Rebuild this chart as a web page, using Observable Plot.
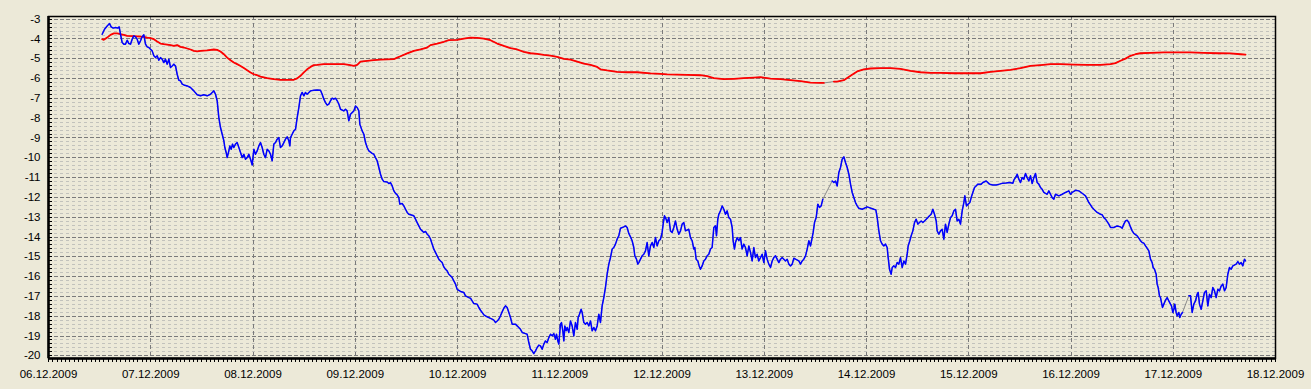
<!DOCTYPE html>
<html><head><meta charset="utf-8">
<script src="https://cdn.jsdelivr.net/npm/d3@7"></script>
<script src="https://cdn.jsdelivr.net/npm/@observablehq/plot@0.6"></script>
<style>html,body{margin:0;padding:0;background:#ECE9D8;} #chart svg{display:block}</style>
</head><body><div id="chart"></div>
<script>
// Tick labels
const dayLabels = ["06.12.2009","07.12.2009","08.12.2009","09.12.2009","10.12.2009","11.12.2009","12.12.2009","13.12.2009","14.12.2009","15.12.2009","16.12.2009","17.12.2009","18.12.2009"];
const yTickLabels = [-3,-4,-5,-6,-7,-8,-9,-10,-11,-12,-13,-14,-15,-16,-17,-18,-19,-20];

// Blue series: hours since 06.12.2009 00:00 and values (null = recording gap)
const blueHours = [12.6,13.15,13.77,14.32,14.71,15.18,15.73,16.28,16.59,16.9,17.29,17.68,18.07,18.47,18.86,19.25,19.64,20.03,20.42,20.81,21.2,21.6,21.99,22.38,22.77,23.16,23.55,23.94,24.33,24.73,25.12,25.51,25.9,26.29,26.68,27.07,27.46,27.86,28.25,28.64,29.03,29.42,29.81,30.2,30.59,30.98,31.38,31.77,32.55,33.33,34.11,34.9,35.68,36.46,37.24,38.03,38.42,38.81,39.2,39.59,39.98,40.37,40.77,41.16,41.39,41.7,41.94,42.33,42.56,42.88,43.19,43.5,43.89,44.28,44.68,45.07,45.46,45.85,46.24,46.63,47.02,47.42,47.81,48.2,48.59,48.98,49.37,49.76,50.15,50.54,50.93,51.32,51.72,52.11,52.5,52.89,53.28,53.67,54.06,54.45,54.85,55.24,55.63,56.02,56.41,56.65,56.8,57.19,57.58,57.98,58.37,58.76,59.15,59.54,59.93,60.32,60.71,61.11,61.5,62.28,63.06,63.84,64.23,64.63,65.02,65.41,65.8,66.19,66.58,66.97,67.36,67.76,68.15,68.54,69.32,69.71,70.1,70.49,70.89,71.67,72.06,72.45,72.84,73.08,73.62,74.02,74.41,74.8,75.19,75.97,76.36,76.75,77.14,77.54,77.93,78.32,78.71,79.49,79.88,80.27,80.67,81.06,81.45,81.84,82.23,82.46,83.01,83.4,83.8,84.19,84.58,85.36,85.75,86.14,86.53,86.92,87.32,87.71,88.1,88.49,88.88,89.27,
89.66,90.05,90.44,90.83,91.22,91.62,92.01,92.4,92.79,93.18,93.57,93.96,94.35,94.75,95.14,95.53,95.92,96.7,97.48,97.87,98.66,99.05,99.44,99.83,100.61,101.0,101.4,101.79,102.18,102.96,103.35,104.13,104.53,104.92,105.31,105.7,106.09,106.48,106.87,107.26,107.66,108.05,108.44,108.83,109.61,110.0,110.39,110.78,111.18,111.96,112.35,112.74,113.13,113.52,113.91,114.31,114.7,115.09,115.48,115.87,116.26,116.65,117.04,117.44,117.83,118.22,118.61,119.0,119.23,119.55,119.78,120.17,120.41,120.72,120.96,121.19,121.5,121.74,122.13,122.52,122.91,123.3,123.69,124.09,124.32,124.63,125.02,125.26,125.65,126.04,126.43,126.82,127.22,127.61,128.0,128.39,128.78,129.17,129.56,
129.95,130.34,130.73,131.12,131.52,131.91,132.3,132.69,133.08,133.47,133.86,134.25,135.04,135.43,135.82,136.21,136.6,136.99,137.38,137.62,138.01,138.32,138.56,138.95,139.34,139.73,140.12,140.51,140.9,141.3,141.69,142.08,142.47,142.86,143.25,143.64,144.03,144.27,144.58,144.97,145.21,145.6,145.99,146.38,146.77,147.16,147.56,147.95,148.34,148.73,149.12,149.51,150.29,150.68,151.08,151.47,151.7,152.01,152.41,152.72,153.03,153.42,153.81,154.2,154.6,154.99,155.38,155.77,156.16,156.55,156.79,157.1,157.34,157.73,158.12,158.51,158.9,159.29,159.68,160.07,160.47,160.7,161.01,161.25,161.64,162.03,162.42,162.81,163.2,163.59,163.99,164.38,164.77,165.16,165.55,165.94,166.33,166.72,167.12,167.51,167.9,168.29,168.68,169.07,
169.47,169.86,170.25,170.64,171.03,171.43,171.82,172.21,172.6,172.99,173.38,173.77,174.16,174.56,174.95,175.34,176.12,176.51,176.9,177.29,177.69,178.08,178.47,178.86,179.25,179.48,179.8,180.19,180.58,180.97,181.36,181.75,182.8,183.94,184.34,184.73,185.12,185.51,185.9,186.29,186.68,187.07,187.47,187.86,188.25,188.64,189.03,189.42,189.81,190.2,190.99,192.16,193.72,194.19,194.51,194.9,195.29,195.68,196.07,196.46,196.85,197.09,197.4,197.79,198.03,198.42,198.81,199.2,199.59,199.98,200.37,200.77,201.16,201.55,201.78,202.17,202.49,202.88,203.27,203.66,204.05,204.44,204.83,205.23,205.62,206.01,206.4,206.79,207.18,207.57,207.96,208.36,208.59,208.98,
209.37,209.76,210.15,210.54,210.93,211.33,211.72,212.11,212.5,212.89,213.28,213.67,214.06,214.46,214.85,215.08,215.47,215.86,216.26,216.57,216.96,217.35,217.74,218.13,218.92,219.31,220.09,220.87,221.65,222.44,223.22,224.0,224.78,225.57,226.35,226.58,226.97,227.37,227.76,228.15,228.54,228.93,229.32,229.71,230.1,230.5,230.89,231.28,231.67,232.06,232.45,232.84,233.23,233.63,234.02,234.41,234.8,235.19,235.58,235.97,236.36,237.15,237.93,238.71,239.49,239.88,240.28,241.06,241.84,242.62,243.4,243.8,244.19,244.58,244.97,245.36,246.14,246.93,247.32,247.71,248.1,248.49,248.88,
249.27,250.05,250.83,251.62,252.01,252.4,252.79,253.18,253.57,253.96,254.36,254.75,255.53,255.92,256.31,256.7,257.09,257.49,257.88,258.27,258.66,259.05,259.28,259.6,259.99,260.22,260.46,260.77,261.01,261.24,261.48,261.79,262.18,262.57,262.96,263.35,263.59,263.9,264.14,264.37,264.68,264.92,265.31,265.54,265.86,266.17,266.9,267.66,268.05,268.44,268.83,269.22,269.61,269.85,270.16,270.55,270.94,271.33,271.73,272.12,272.51,272.9,273.29,273.68,274.07,274.46,274.86,275.25,275.64,276.03,276.42,276.81,277.2,277.59,277.98,278.77,279.16,279.55,279.94,280.33,280.72,280.96];
const blueValues = [-3.76,-3.51,-3.34,-3.22,-3.39,-3.45,-3.42,-3.45,-3.39,-3.76,-4.18,-4.26,-4.26,-4.06,-4.23,-4.26,-4.01,-3.84,-3.89,-4.01,-4.26,-4.09,-3.89,-3.79,-4.26,-4.40,-4.43,-4.52,-4.60,-4.85,-4.94,-4.85,-5.07,-4.94,-5.02,-5.19,-5.02,-5.27,-5.02,-5.44,-5.36,-5.27,-5.36,-5.78,-6.08,-6.11,-6.28,-6.32,-6.37,-6.45,-6.62,-6.82,-6.87,-6.82,-6.87,-6.79,-6.70,-6.62,-6.79,-7.12,-7.97,-8.47,-8.81,-9.14,-9.48,-9.73,-9.99,-9.65,-9.40,-9.57,-9.31,-9.48,-9.31,-9.23,-9.48,-9.73,-9.99,-9.82,-10.07,-9.99,-9.82,-10.07,-10.36,-9.57,-9.82,-9.65,-9.40,-9.23,-9.48,-9.82,-9.99,-9.57,-9.65,-9.82,-10.15,-9.31,-9.23,-9.06,-8.98,-9.48,-9.40,-9.23,-9.06,-8.94,-9.14,-9.40,-8.98,-8.81,-8.64,-8.56,-7.97,-7.46,-6.87,-6.70,-6.87,-6.70,-6.79,-6.70,-6.62,-6.59,-6.57,-6.59,-6.79,-7.04,-7.21,-7.34,-7.29,-7.12,-6.99,-7.04,-6.99,-7.12,-7.29,-7.55,-7.63,-7.55,-7.63,-8.13,-7.80,-7.63,-7.38,-7.46,-7.63,-8.30,-8.64,-8.81,-9.23,-9.48,-9.65,-9.78,-9.82,-9.99,-10.15,-10.49,-10.83,-11.08,-11.20,-11.22,-11.30,-11.25,-11.42,-11.67,-11.80,-11.87,-12.01,-12.34,-12.31,-12.43,-12.60,-12.76,-12.85,-12.90,-12.93,-13.10,-13.27,-13.44,-13.61,-13.69,-13.77,-13.72,-13.86,-13.94,
-14.10,-14.36,-14.61,-14.78,-14.95,-15.12,-15.21,-15.29,-15.51,-15.63,-15.71,-15.88,-15.96,-16.05,-16.22,-16.38,-16.64,-16.75,-16.80,-16.97,-17.06,-17.09,-17.23,-17.36,-17.39,-17.56,-17.70,-17.81,-17.93,-18.03,-18.07,-18.15,-18.20,-18.32,-18.24,-18.15,-17.98,-17.78,-17.60,-17.48,-17.56,-17.81,-18.07,-18.40,-18.40,-18.49,-18.57,-18.66,-18.82,-18.88,-18.91,-19.33,-19.67,-19.75,-19.89,-19.75,-19.58,-19.46,-19.50,-19.67,-19.41,-19.25,-19.33,-19.08,-18.91,-18.99,-18.88,-19.16,-18.91,-19.25,-19.41,-18.40,-18.32,-18.74,-19.25,-18.49,-18.74,-18.57,-18.82,-18.24,-18.49,-18.99,-18.32,-18.66,-18.07,-17.90,-17.65,-17.81,-18.32,-18.40,-18.32,-18.49,-18.24,-18.74,-18.57,-18.74,-18.49,-17.90,-18.32,
-17.48,-17.06,-16.55,-15.88,-15.37,-15.04,-14.61,-14.53,-14.36,-14.11,-13.94,-13.56,-13.49,-13.44,-13.52,-13.82,-13.99,-14.19,-14.53,-14.95,-15.12,-15.37,-15.29,-15.12,-14.95,-14.87,-14.70,-14.28,-14.95,-14.45,-14.28,-14.53,-14.03,-14.45,-14.19,-14.11,-13.77,-13.35,-12.93,-13.10,-13.27,-13.02,-13.69,-13.77,-13.52,-13.19,-13.61,-13.86,-13.69,-13.35,-13.27,-13.69,-13.61,-14.03,-14.19,-14.61,-14.53,-15.12,-15.21,-15.46,-15.63,-15.46,-15.21,-15.12,-14.95,-14.87,-14.61,-14.53,-13.52,-13.44,-13.94,-13.10,-12.85,-12.68,-12.43,-12.60,-12.85,-12.68,-13.02,-13.10,-13.52,-14.19,-14.61,-14.28,-14.03,-14.19,-14.03,-14.61,-14.36,-14.53,-14.95,-14.45,-14.78,-15.21,-14.53,-15.04,-14.87,-15.21,-15.04,-14.87,-15.29,-14.70,-15.12,-15.37,
-15.54,-15.21,-15.04,-14.95,-15.12,-15.29,-15.12,-15.04,-15.12,-15.21,-15.12,-15.37,-15.46,-15.37,-15.07,-15.12,-15.21,-15.37,-15.21,-15.12,-14.95,-14.61,-14.19,-14.45,-14.03,-13.77,-13.27,-13.02,-12.34,-12.51,-12.43,-12.09,null,-11.17,-11.25,-11.17,-11.42,-10.74,-10.49,-10.07,-9.95,-10.24,-10.49,-10.83,-11.33,-11.75,-12.01,-12.26,-12.43,-12.55,-12.60,-12.48,-12.60,-12.63,-13.02,-13.69,-14.19,-14.36,-14.45,-14.36,-14.53,-15.04,-15.63,-15.88,-15.54,-15.46,-15.54,-15.29,-15.37,-15.04,-15.54,-15.21,-15.37,-14.87,-14.45,-14.19,-13.94,-13.69,-13.27,-13.10,-13.35,-13.27,-13.19,-13.27,-13.19,-13.10,-13.02,-12.93,-12.85,-12.60,-12.85,-13.19,-13.69,-13.86,
-13.69,-13.61,-14.11,-13.35,-13.77,-13.35,-13.02,-12.93,-12.68,-12.60,-13.19,-13.10,-13.35,-12.68,-12.26,-11.92,-12.43,-12.34,-12.26,-12.01,-11.75,-11.50,-11.42,-11.33,-11.33,-11.25,-11.17,-11.33,-11.37,-11.37,-11.33,-11.28,-11.27,-11.25,-11.28,-11.13,-11.00,-10.83,-11.08,-11.25,-11.00,-11.08,-10.79,-11.00,-11.17,-10.91,-11.30,-11.00,-10.79,-11.25,-11.33,-11.50,-11.59,-11.75,-11.80,-11.84,-11.67,-11.84,-12.01,-12.09,-11.84,-11.92,-11.84,-11.75,-11.67,-11.84,-11.75,-11.64,-11.67,-11.79,-11.92,-12.09,-12.26,-12.38,-12.51,-12.60,-12.76,-12.85,-12.88,-13.02,-13.10,-13.22,-13.35,
-13.52,-13.52,-13.44,-13.49,-13.56,-13.35,-13.19,-13.15,-13.27,-13.49,-13.69,-13.82,-13.94,-14.06,-14.19,-14.28,-14.31,-14.45,-14.57,-14.70,-15.12,-15.29,-15.54,-15.63,-15.88,-16.38,-16.55,-16.97,-17.06,-17.31,-17.56,-17.39,-17.19,-17.06,-17.23,-17.39,-17.48,-17.81,-17.65,-17.39,-17.81,-17.98,-17.81,-18.07,-17.90,-17.81,null,-16.97,-16.97,-17.81,-17.39,-17.23,-16.89,-16.80,-17.39,-17.65,-17.23,-16.80,-16.72,-17.48,-16.89,-17.06,-16.55,-16.72,-17.06,-16.64,-16.72,-16.47,-16.38,-16.72,-16.55,-15.88,-15.54,-15.63,-15.46,-15.37,-15.24,-15.37,-15.29,-15.46,-15.12,-15.21];

// Red series
const redHours = [12.6,12.99,13.77,14.55,15.34,16.12,16.9,17.68,18.47,20.03,21.6,22.38,23.16,23.94,24.73,25.51,26.29,27.07,28.64,29.42,30.2,30.98,31.77,32.55,33.33,34.11,34.9,35.68,37.24,38.81,39.59,40.37,41.16,41.94,42.72,43.5,44.28,45.07,45.85,46.63,47.42,48.2,48.98,49.76,51.32,52.89,54.45,57.58,58.37,59.15,59.93,60.71,61.5,62.28,63.06,64.63,69.32,70.49,71.67,72.45,73.23,74.8,76.36,77.93,81.06,81.84,82.62,84.19,85.75,87.32,88.88,89.66,91.22,92.79,93.96,95.92,97.48,99.05,100.61,102.18,103.74,105.31,106.87,108.44,110.0,111.57,113.13,114.7,116.26,117.83,119.39,120.96,122.52,124.09,125.65,127.22,128.78,129.56,131.12,133.47,135.82,138.17,141.3,143.64,145.21,149.9,153.03,154.6,156.16,158.51,160.86,163.2,165.55,167.12,169.47,171.82,174.16,176.51,178.86,181.21,181.99,183.2,184.34,185.12,186.68,188.25,189.81,191.38,192.94,195.29,197.64,199.98,202.33,204.68,207.02,209.37,212.5,215.63,218.76,221.11,223.45,225.8,228.15,230.5,232.84,235.19,237.54,240.67,243.8,246.93,249.27,250.44,251.62,252.79,253.96,255.14,256.31,258.66,261.79,268.05,271.18,274.31,277.44,279.79,280.96];
const redValues = [-4.01,-4.04,-3.93,-3.79,-3.72,-3.72,-3.76,-3.79,-3.84,-3.86,-3.88,-3.89,-3.93,-3.96,-4.01,-4.13,-4.23,-4.26,-4.31,-4.35,-4.31,-4.40,-4.43,-4.48,-4.53,-4.60,-4.63,-4.60,-4.57,-4.53,-4.55,-4.63,-4.77,-4.94,-5.07,-5.19,-5.27,-5.36,-5.47,-5.58,-5.69,-5.78,-5.83,-5.90,-5.98,-6.03,-6.06,-6.06,-5.99,-5.86,-5.69,-5.53,-5.41,-5.32,-5.31,-5.27,-5.27,-5.31,-5.36,-5.31,-5.14,-5.10,-5.07,-5.04,-5.02,-4.94,-4.87,-4.73,-4.60,-4.52,-4.43,-4.31,-4.23,-4.14,-4.06,-4.04,-3.98,-3.93,-3.94,-3.98,-4.06,-4.23,-4.35,-4.46,-4.53,-4.65,-4.72,-4.75,-4.80,-4.84,-4.90,-5.00,-5.04,-5.14,-5.24,-5.31,-5.41,-5.53,-5.59,-5.66,-5.68,-5.68,-5.74,-5.76,-5.79,-5.81,-5.83,-5.88,-5.98,-6.03,-6.01,-5.98,-5.95,-5.93,-6.00,-6.03,-6.08,-6.13,-6.20,-6.22,-6.22,null,-6.15,-6.15,-6.08,-5.86,-5.64,-5.53,-5.49,-5.47,-5.47,-5.51,-5.61,-5.68,-5.71,-5.71,-5.73,-5.73,-5.73,-5.66,-5.61,-5.56,-5.47,-5.36,-5.32,-5.27,-5.27,-5.29,-5.31,-5.31,-5.27,-5.22,-5.10,-4.99,-4.85,-4.77,-4.72,-4.70,-4.68,-4.68,-4.70,-4.72,-4.73,-4.77,-4.79];

const startMs = Date.UTC(2009, 11, 6);
const parseDay = d3.utcParse("%d.%m.%Y");
const dayTicks = dayLabels.map(parseDay);
const toDate = h => new Date(startMs + h * 3600e3);
const build = (hours, values) => hours.map((h, i) => ({t: toDate(h), v: values[i]}));
const blue = build(blueHours, blueValues);
const red = build(redHours, redValues);

const yBottom = -20.136, yTop = -2.864;
const fifths = d3.range(-100, -14).map(i => i / 5);
const minorY = fifths.filter(v => !Number.isInteger(v));
const hourTicks = d3.utcHour.range(dayTicks[0], new Date(+dayTicks[12] + 1));
const tickStub = new Date(+dayTicks[0] + 50 * 60e3);
const crisp = {shapeRendering: "crispEdges"};

const chart = Plot.plot({
  width: 1311, height: 389,
  marginLeft: 48, marginRight: 36, marginTop: 16, marginBottom: 31,
  style: {background: "#ECE9D8", fontFamily: "'Liberation Sans', Arial, sans-serif", fontSize: "11.5px", color: "#000", overflow: "visible"},
  x: {type: "utc", domain: [dayTicks[0], dayTicks[12]]},
  y: {domain: [yBottom, yTop]},
  marks: [
    Plot.ruleY(minorY, {stroke: "#c2c2bc", strokeDasharray: "3,3", ...crisp}),
    Plot.ruleY(yTickLabels, {stroke: "#7a7a7a", strokeDasharray: "4,2", ...crisp}),
    Plot.ruleX(dayTicks.slice(1, -1), {stroke: "#7a7a7a", strokeDasharray: "4,3", ...crisp}),
    Plot.line(red.filter(d => d.v != null), {x: "t", y: "v", stroke: "#8a8a8a", strokeWidth: 1}),
    Plot.line(blue.filter(d => d.v != null), {x: "t", y: "v", stroke: "#8a8a8a", strokeWidth: 1}),
    Plot.line(red, {x: "t", y: "v", stroke: "#ff0000", strokeWidth: 1.8}),
    Plot.line(blue, {x: "t", y: "v", stroke: "#0000ff", strokeWidth: 1.5}),
    Plot.frame({stroke: "#000", strokeWidth: 1.5}),
    Plot.ruleY(fifths, {x1: dayTicks[0], x2: tickStub, stroke: "#000", strokeWidth: 1, ...crisp}),
    Plot.ruleX(hourTicks, {y1: yBottom, y2: yBottom - 3.5 / 19.8, stroke: "#000", strokeWidth: 1, ...crisp}),
    Plot.ruleX([dayTicks[0]], {stroke: "#000", strokeWidth: 2.5}),
    Plot.ruleY([yBottom], {stroke: "#000", strokeWidth: 2.5}),
    Plot.axisY(yTickLabels, {tickSize: 0, tickPadding: 8, tickFormat: d => String(d), label: null}),
    Plot.axisX(dayTicks, {tickSize: 0, tickPadding: 11, tickFormat: (d, i) => dayLabels[i], label: null})
  ]
});
document.getElementById("chart").append(chart);
</script>
</body></html>
